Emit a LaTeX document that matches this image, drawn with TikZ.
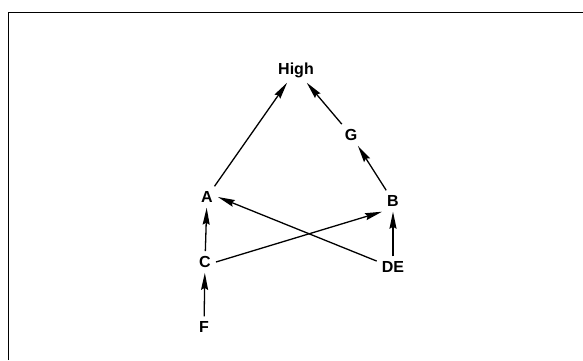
\documentclass[tikz,border=0pt]{standalone}
\usepackage{fontspec}
\setmainfont{Liberation Sans}
\usetikzlibrary{arrows.meta}
\begin{document}
\begin{tikzpicture}[x=1pt,y=-1pt,
  lbl/.style={font=\fontsize{16}{18}\selectfont\bfseries, inner sep=5pt},
  arr/.style={line width=1.3pt, -{Stealth[length=17pt,width=7pt,inset=2pt]}},
  frame/.style={line width=1.5pt}]
\useasboundingbox (0,0) rectangle (583,360);
\draw[frame] (8.5,360) -- (8.5,12.5) -- (583,12.5);
\node[lbl] (High) at (296,70) {High};
\node[lbl] (G) at (351,135) {G};
\node[lbl] (A) at (207,197) {A};
\node[lbl] (B) at (393,201) {B};
\node[lbl] (C) at (205,262) {C};
\node[lbl] (DE) at (393,267) {DE};
\node[lbl] (F) at (204,327) {F};
\draw[arr] (A) -- (High);
\draw[arr] (G) -- (High);
\draw[arr] (B) -- (G);
\draw[arr] (C) -- (A);
\draw[arr] (F) -- (C);
\draw[arr] (DE) -- (B);
\draw[arr] (C.east) -- (B.south west);
\draw[arr] (DE.160) -- (A.east);
\end{tikzpicture}
\end{document}
